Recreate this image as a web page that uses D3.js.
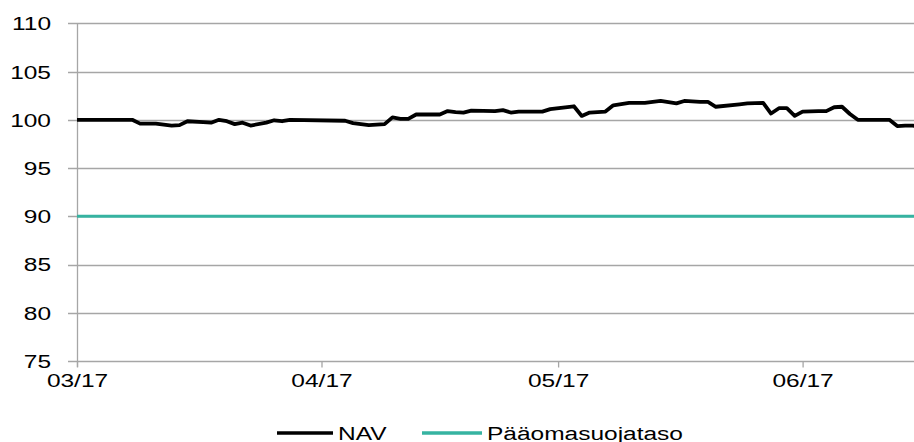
<!DOCTYPE html>
<html>
<head>
<meta charset="utf-8">
<script src="https://cdn.jsdelivr.net/npm/d3@7"></script>
<style>
  html, body { margin: 0; padding: 0; background: #fff; }
  svg { display: block; }
  text { font-family: "Liberation Sans", Arial, sans-serif; fill: #000; }
</style>
</head>
<body>
<svg id="chart" width="914" height="442"></svg>
<script>
// NAV observations (date, value)
const navDates = [
  "2017-03-01","2017-03-08","2017-03-09","2017-03-11","2017-03-13","2017-03-14","2017-03-15",
  "2017-03-17","2017-03-18","2017-03-19","2017-03-20","2017-03-21","2017-03-22","2017-03-23",
  "2017-03-25","2017-03-26","2017-03-27","2017-03-28","2017-04-04","2017-04-05","2017-04-07",
  "2017-04-09","2017-04-10","2017-04-11","2017-04-12","2017-04-13","2017-04-16","2017-04-17",
  "2017-04-18","2017-04-19","2017-04-20","2017-04-23","2017-04-24","2017-04-25","2017-04-26",
  "2017-04-29","2017-04-30","2017-05-03","2017-05-04","2017-05-05","2017-05-07","2017-05-08",
  "2017-05-10","2017-05-12","2017-05-14","2017-05-16","2017-05-17","2017-05-19","2017-05-20",
  "2017-05-21","2017-05-24","2017-05-25","2017-05-27","2017-05-28","2017-05-29","2017-05-30",
  "2017-05-31","2017-06-01","2017-06-03","2017-06-04","2017-06-05","2017-06-06","2017-06-07",
  "2017-06-08","2017-06-12","2017-06-13","2017-06-14","2017-06-15","2017-06-16"
];
const navValues = [
  100.0, 100.0, 99.6, 99.6, 99.4, 99.45, 99.85,
  99.75, 99.7, 100.0, 99.85, 99.55, 99.7, 99.4,
  99.7, 99.95, 99.85, 100.0, 99.9, 99.65, 99.45,
  99.55, 100.25, 100.1, 100.1, 100.55, 100.55, 100.9,
  100.8, 100.75, 100.95, 100.9, 101.0, 100.75, 100.85,
  100.85, 101.1, 101.4, 100.4, 100.75, 100.85, 101.5,
  101.75, 101.75, 101.95, 101.7, 101.95, 101.85, 101.85,
  101.35, 101.6, 101.7, 101.75, 100.65, 101.2, 101.2,
  100.4, 100.85, 100.9, 100.9, 101.3, 101.35, 100.6,
  100.0, 100.0, 99.35, 99.4, 99.4, 99.15
];
// Capital protection level
const protectionLevel = 90;

const yTicks = [75, 80, 85, 90, 95, 100, 105, 110];
const xTickDates = ["2017-03-01", "2017-04-01", "2017-05-01", "2017-06-01"];
const seriesNames = ["NAV", "Pääomasuojataso"];
const seriesColors = ["#000000", "#36b3a1"];

const parse = d3.timeParse("%Y-%m-%d");
const nav = navDates.map((d, i) => ({ date: parse(d), value: navValues[i] }));

const svg = d3.select("#chart");
const plotLeft = 77, plotTop = 23.3, plotBottom = 361, plotRight = 914;
const fontSize = 18;
const widen = 1.36; // wide-set lettering

// stretch glyphs horizontally while keeping anchors in place
function widenText(sel) {
  sel.each(function () {
    const w = this.getComputedTextLength();
    d3.select(this).attr("textLength", w * widen).attr("lengthAdjust", "spacingAndGlyphs");
  });
}

const x = d3.scaleTime()
  .domain([parse("2017-03-01"), parse("2017-06-01")])
  .range([plotLeft, 802.6]);
const y = d3.scaleLinear().domain([75, 110]).range([plotBottom, plotTop]);

const grid = "#a6a6a6";

// horizontal gridlines with outward tick marks
svg.append("g").selectAll("line").data(yTicks).join("line")
  .attr("x1", 68).attr("x2", plotRight)
  .attr("y1", d => Math.round(y(d)) + 0.5).attr("y2", d => Math.round(y(d)) + 0.5)
  .attr("stroke", grid).attr("stroke-width", 1.3);

// y axis
const yAxis = svg.append("g")
  .attr("transform", `translate(${plotLeft},0)`)
  .call(d3.axisLeft(y).tickValues(yTicks).tickSize(0).tickPadding(26).tickFormat(d3.format("d")));
yAxis.select(".domain").remove();
yAxis.selectAll("text").attr("font-size", fontSize).attr("dy", "0.36em")
  .style("font-family", '"Liberation Sans", Arial, sans-serif')
  .call(widenText);

svg.append("line")
  .attr("x1", plotLeft + 0.5).attr("x2", plotLeft + 0.5)
  .attr("y1", plotTop).attr("y2", plotBottom + 6)
  .attr("stroke", grid).attr("stroke-width", 1.3);

// x axis
const xAxis = svg.append("g")
  .attr("transform", `translate(0,${Math.round(plotBottom) + 0.5})`)
  .call(d3.axisBottom(x).tickValues(xTickDates.map(parse)).tickSize(6).tickPadding(7)
    .tickFormat(d3.timeFormat("%m/%y")));
xAxis.select(".domain").remove();
xAxis.selectAll(".tick line").attr("stroke", grid).attr("stroke-width", 1.3);
xAxis.selectAll("text").attr("font-size", fontSize)
  .style("font-family", '"Liberation Sans", Arial, sans-serif')
  .call(widenText);

// capital protection line
svg.append("line")
  .attr("x1", plotLeft).attr("x2", plotRight)
  .attr("y1", y(protectionLevel)).attr("y2", y(protectionLevel))
  .attr("stroke", seriesColors[1]).attr("stroke-width", 3.2);

// NAV line
svg.append("path")
  .datum(nav)
  .attr("fill", "none")
  .attr("stroke", seriesColors[0])
  .attr("stroke-width", 3.8)
  .attr("stroke-linejoin", "round")
  .attr("d", d3.line().x(d => x(d.date)).y(d => y(d.value)));

// legend
const legend = [
  { name: seriesNames[0], color: seriesColors[0], x1: 277, x2: 333, tx: 338 },
  { name: seriesNames[1], color: seriesColors[1], x1: 422, x2: 482, tx: 487 }
];
const lg = svg.append("g");
legend.forEach(l => {
  lg.append("line").attr("x1", l.x1).attr("x2", l.x2).attr("y1", 433).attr("y2", 433)
    .attr("stroke", l.color).attr("stroke-width", 3.4);
  lg.append("text").attr("x", l.tx).attr("y", 439.5).attr("font-size", fontSize)
    .text(l.name).call(widenText);
});
</script>
</body>
</html>
